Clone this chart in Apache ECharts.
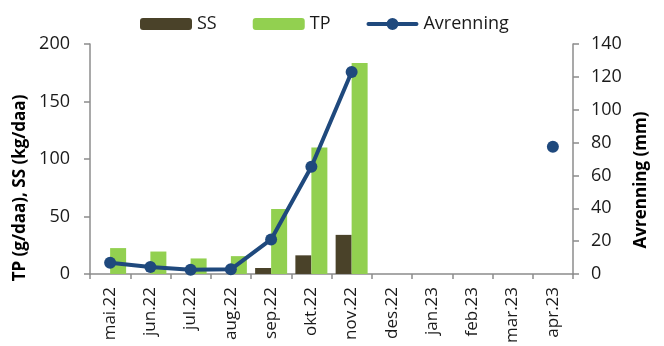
<!DOCTYPE html>
<html>
<head>
<meta charset="utf-8">
<script src="https://cdn.jsdelivr.net/npm/echarts@6/dist/echarts.min.js"></script>
<style>
html,body{margin:0;padding:0;background:#fff}
#main{width:664px;height:346px}
</style>
</head>
<body>
<div id="main"></div>
<script>
// måneder
var months = ['mai.22','jun.22','jul.22','aug.22','sep.22','okt.22','nov.22','des.22','jan.23','feb.23','mar.23','apr.23']
// SS (kg/daa)
var ssData = [null, null, null, null, 5.2, 16.2, 34, null, null, null, null, null]
// TP (g/daa)
var tpData = [22.5, 19.5, 13.5, 15.5, 56.5, 110, 183.5, null, null, null, null, null]
// Avrenning (mm)
var avrData = [6.8, 4.2, 2.5, 2.8, 21, 65.3, 123, null, null, null, null, 77.5]

var fontName = 'Open Sans'
var axisColor = '#8c8c8c'
// tykk linje med punkt i legenden
var lineIcon = 'path://M2,4 L50,4 A2,2 0 0,1 50,8 L2,8 A2,2 0 0,1 2,4 Z M20,6 A6,6 0 1,1 32,6 A6,6 0 1,1 20,6 Z'

var myChart = echarts.init(document.getElementById('main'))
var option = {
    animation: false,
    textStyle: { fontFamily: fontName },
    legend: {
        left: 135,
        top: 10,
        itemWidth: 52,
        itemHeight: 12,
        itemGap: 36,
        textStyle: { fontFamily: fontName, fontSize: 18, color: '#1a1a1a' },
        data: ['SS', 'TP', { name: 'Avrenning', icon: lineIcon }]
    },
    grid: {
        left: 90,
        right: 91,
        top: 44,
        bottom: 72
    },
    xAxis: [{
        type: 'category',
        data: months,
        axisLine: { show: true, lineStyle: { color: axisColor, width: 1.5 } },
        axisTick: { show: true, length: 5, lineStyle: { color: axisColor, width: 1.5 } },
        axisLabel: {
            rotate: 90,
            interval: 0,
            margin: 13,
            fontFamily: fontName,
            fontSize: 17,
            color: '#1a1a1a'
        }
    }],
    yAxis: [
        {
            type: 'value',
            min: 0,
            max: 200,
            interval: 50,
            name: 'TP (g/daa), SS (kg/daa)',
            nameLocation: 'middle',
            nameGap: 60,
            nameTextStyle: { fontFamily: fontName, fontSize: 17, fontWeight: 'bold', color: '#000', padding: [0, 58, 0, 0] },
            splitLine: { show: false },
            axisLine: { show: true, lineStyle: { color: axisColor, width: 1.5 } },
            axisTick: { show: true, length: 6, lineStyle: { color: axisColor, width: 1.5 } },
            axisLabel: { fontFamily: fontName, fontSize: 18, color: '#1a1a1a', margin: 20 }
        },
        {
            type: 'value',
            min: 0,
            max: 140,
            interval: 20,
            position: 'right',
            name: 'Avrenning (mm)',
            nameLocation: 'middle',
            nameGap: 60,
            nameRotate: 90,
            nameTextStyle: { fontFamily: fontName, fontSize: 17, fontWeight: 'bold', color: '#000', padding: [0, 42, 0, 0] },
            splitLine: { show: false },
            axisLine: { show: true, lineStyle: { color: axisColor, width: 1.5 } },
            axisTick: { show: true, length: 6, lineStyle: { color: axisColor, width: 1.5 } },
            axisLabel: { fontFamily: fontName, fontSize: 18, color: '#1a1a1a', margin: 18 }
        }
    ],
    series: [
        {
            name: 'SS',
            type: 'bar',
            barWidth: 16,
            barGap: '0%',
            itemStyle: { color: '#4a4229' },
            data: ssData
        },
        {
            name: 'TP',
            type: 'bar',
            barWidth: 16,
            barGap: '0%',
            itemStyle: { color: '#92d050' },
            data: tpData
        },
        {
            name: 'Avrenning',
            type: 'line',
            yAxisIndex: 1,
            symbol: 'circle',
            symbolSize: 12,
            connectNulls: false,
            lineStyle: { color: '#1f497d', width: 4 },
            itemStyle: { color: '#1f497d' },
            data: avrData
        }
    ]
}
myChart.setOption(option)
</script>
</body>
</html>
